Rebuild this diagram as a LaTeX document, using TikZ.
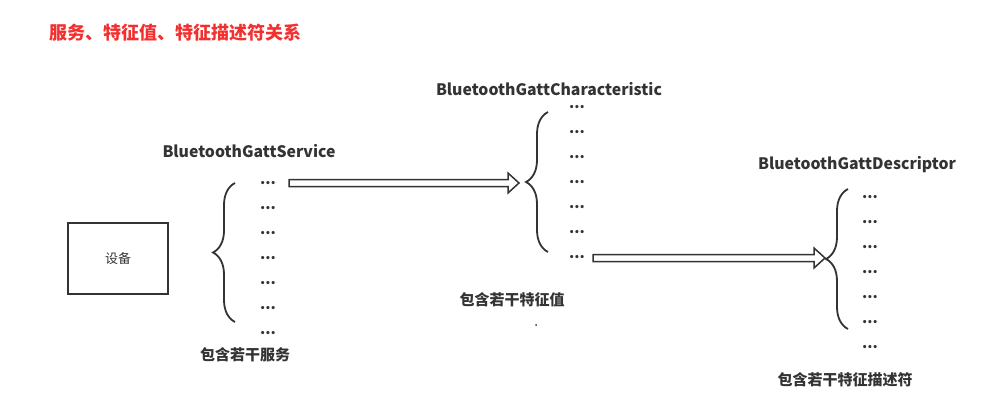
\documentclass[tikz,border=0pt]{standalone}
\usepackage{fontspec}
\setmainfont{Noto Sans CJK SC}
\usetikzlibrary{calc,decorations.pathreplacing}
\definecolor{titlered}{HTML}{F2302F}
\definecolor{inkgray}{HTML}{333333}
\tikzset{
  grouplabel/.style={font=\fontsize{15}{15}\selectfont\bfseries, text=inkgray},
  classlabel/.style={font=\fontsize{15.8}{15.8}\selectfont\bfseries, text=inkgray},
  dotsitem/.style={font=\fontsize{15}{15}\selectfont\bfseries, text=inkgray, anchor=base},
  curly/.style={draw=inkgray, line width=1.8pt, decorate, decoration={brace, amplitude=22pt}},
  fatarrow/.style={draw=inkgray, line width=1.5pt, fill=white, line join=miter},
}
\newcommand\hollowarrow[2]{%
  \draw[fatarrow] let \p1=(#1), \p2=(#2) in
    (\x1,\y1+3.5pt) -- (\x2-11pt,\y1+3.5pt) -- (\x2-11pt,\y1+10pt) -- (\x2,\y1)
    -- (\x2-11pt,\y1-10pt) -- (\x2-11pt,\y1-3.5pt) -- (\x1,\y1-3.5pt) -- cycle;}

\begin{document}
\begin{tikzpicture}[x=1pt,y=-1pt]
  \useasboundingbox (0,0) rectangle (993,415);
  % Title
  \node[anchor=west, text=titlered, font=\fontsize{18}{18}\selectfont\bfseries, inner sep=0pt] (title) at (49,33) {服务、特征值、特征描述符关系};
  % Device
  \node[draw=inkgray, line width=1.6pt, minimum width=100pt, minimum height=71pt, font=\fontsize{13}{13}\selectfont, text=inkgray] (device) at (118,258.5) {设备};
  % Services
  \node[classlabel] (svc) at (249,151) {BluetoothGattService};
  \draw[curly] (235,322) -- (235,183);
  \foreach \i in {1,...,7} {
    \node[dotsitem] (svc\i) at (268,{184.8+25*(\i-1)}) {...};
  }
  \node[grouplabel] (svcnote) at (245,355) {包含若干服务};
  % Characteristics
  \node[classlabel] (chr) at (549,89) {BluetoothGattCharacteristic};
  \draw[curly] (548,252) -- (548,112);
  \foreach \i in {1,...,7} {
    \node[dotsitem] (chr\i) at (577,{108.8+25*(\i-1)}) {...};
  }
  \node[grouplabel] (chrnote) at (512,300) {包含若干特征值};
  \fill[inkgray] (536,325) circle (1pt);
  % Descriptors
  \node[classlabel] (dsc) at (857,165) {BluetoothGattDescriptor};
  \draw[curly] (848,329) -- (848,189);
  \foreach \i in {1,...,7} {
    \node[dotsitem] (dsc\i) at (870,{198.2+25*(\i-1)}) {...};
  }
  \node[grouplabel] (dscnote) at (845,380) {包含若干特征描述符};
  % Arrows
  \coordinate (a1s) at (289,183);
  \coordinate (a1e) at (519,183);
  \coordinate (a2s) at (593,258);
  \coordinate (a2e) at (825,258);
  \hollowarrow{a1s}{a1e}
  \hollowarrow{a2s}{a2e}
\end{tikzpicture}
\end{document}
